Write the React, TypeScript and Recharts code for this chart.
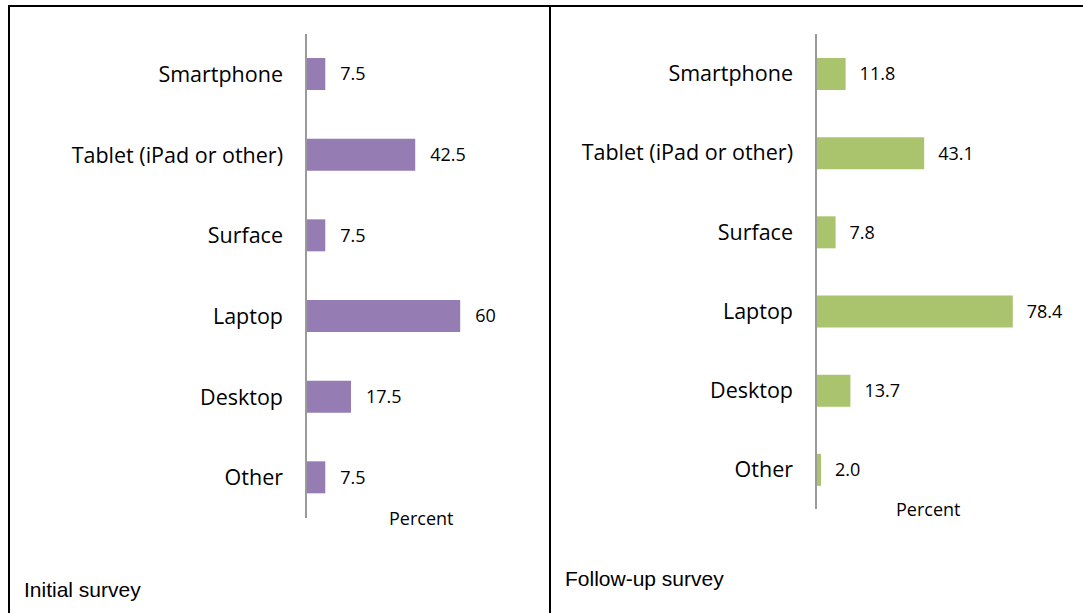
import { BarChart, Bar, XAxis, YAxis, LabelList } from "recharts"

const categories = ["Smartphone", "Tablet (iPad or other)", "Surface", "Laptop", "Desktop", "Other"]
const initialValues = [7.5, 42.5, 7.5, 60, 17.5, 7.5]
const followUpValues = [11.8, 43.1, 7.8, 78.4, 13.7, 2.0]
const initialLabels = ["7.5", "42.5", "7.5", "60", "17.5", "7.5"]
const followUpLabels = ["11.8", "43.1", "7.8", "78.4", "13.7", "2.0"]

const initialData = categories.map((name, i) => ({ name, value: initialValues[i], label: initialLabels[i] }))
const followUpData = categories.map((name, i) => ({ name, value: followUpValues[i], label: followUpLabels[i] }))

const FONT = "'Open Sans', 'Noto Sans', sans-serif"
const CAPTION_FONT = "'Liberation Sans', Arial, sans-serif"

type PanelProps = {
  data: { name: string; value: number; label: string }[]
  color: string
  left: number
  axisX: number
  plotTop: number
  plotBottom: number
  pxPerUnit: number
  domainMax: number
  labelOffset: number
}

function Panel({ data, color, left, axisX, plotTop, plotBottom, pxPerUnit, domainMax, labelOffset }: PanelProps) {
  const width = 530
  const height = 613
  const yAxisWidth = axisX - left
  const plotWidth = domainMax * pxPerUnit
  return (
    <div style={{ position: "absolute", left, top: 0 }}>
      <BarChart
        layout="vertical"
        width={width}
        height={height}
        data={data}
        margin={{ top: plotTop, bottom: height - plotBottom, left: 0, right: width - yAxisWidth - plotWidth }}
      >
        <XAxis type="number" domain={[0, domainMax]} hide />
        <YAxis
          type="category"
          dataKey="name"
          width={yAxisWidth}
          axisLine={{ stroke: "#9a9a9a", strokeWidth: 2 }}
          tickLine={false}
          tickSize={0}
          tickMargin={23}
          tick={{ fontSize: 21.5, fill: "#000", fontFamily: FONT }}
        />
        <Bar dataKey="value" fill={color} barSize={32} isAnimationActive={false}>
          <LabelList
            dataKey="label"
            position="right"
            offset={labelOffset}
            style={{ fontSize: 18, fill: "#000", fontFamily: FONT }}
          />
        </Bar>
      </BarChart>
    </div>
  )
}

export default function App() {
  return (
    <div style={{ position: "fixed", left: 0, top: 0, width: 1083, height: 613, background: "#fff", overflow: "hidden" }}>
      <div
        style={{
          position: "absolute",
          left: 8,
          top: 5,
          width: 1100,
          height: 700,
          borderLeft: "2px solid #000",
          borderTop: "2px solid #000",
        }}
      />
      <div style={{ position: "absolute", left: 549, top: 5, width: 2, height: 700, background: "#000" }} />

      <Panel
        data={initialData}
        color="#957CB3"
        left={10}
        axisX={306}
        plotTop={34}
        plotBottom={518}
        pxPerUnit={2.57}
        domainMax={70}
        labelOffset={15}
      />
      <Panel
        data={followUpData}
        color="#AAC46D"
        left={552}
        axisX={816}
        plotTop={34}
        plotBottom={509}
        pxPerUnit={2.51}
        domainMax={90}
        labelOffset={14}
      />

      <div style={{ position: "absolute", left: 389, top: 506, fontFamily: FONT, fontSize: 18, color: "#000" }}>Percent</div>
      <div style={{ position: "absolute", left: 896, top: 497, fontFamily: FONT, fontSize: 18, color: "#000" }}>Percent</div>

      <div style={{ position: "absolute", left: 24, top: 578, fontFamily: CAPTION_FONT, fontSize: 21, color: "#000" }}>
        Initial survey
      </div>
      <div style={{ position: "absolute", left: 565, top: 567, fontFamily: CAPTION_FONT, fontSize: 21, color: "#000" }}>
        Follow-up survey
      </div>
    </div>
  )
}
